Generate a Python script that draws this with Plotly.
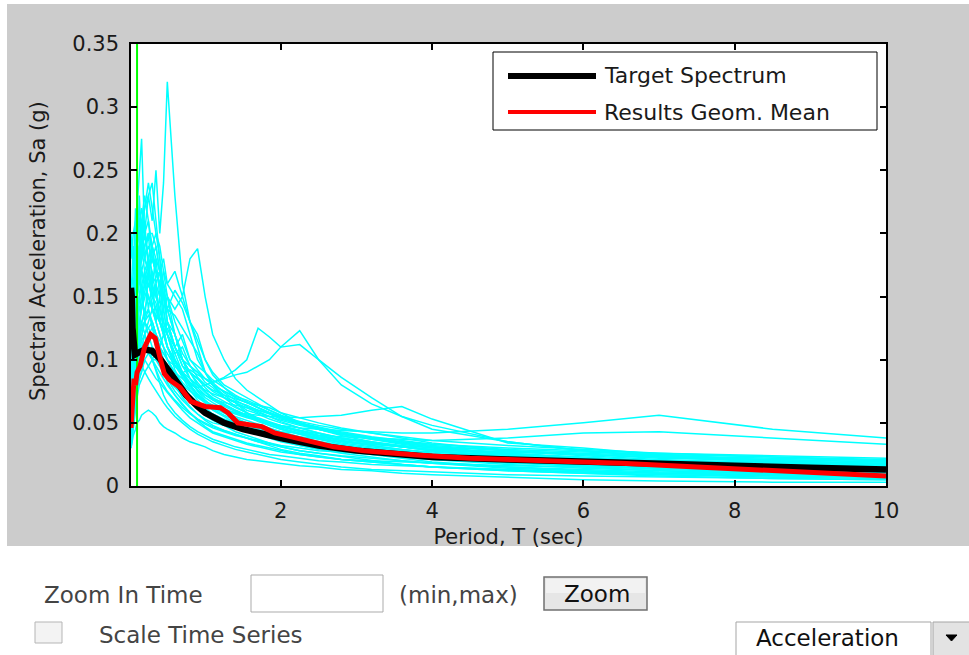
import plotly.graph_objects as go

# ---------------- data ----------------
periods = [0.02, 0.05, 0.08, 0.1, 0.13, 0.16, 0.2, 0.25, 0.3, 0.35, 0.4, 0.45,
           0.5, 0.6, 0.7, 0.8, 0.9, 1.0, 1.1, 1.25, 1.4, 1.55, 1.7, 1.85,
           2.0, 2.25, 2.5, 2.8, 3.2, 3.6, 4.0, 5.0, 6.0, 7.0, 8.5, 10.0]

rec_01 = [0.06, 0.11, 0.15, 0.17, 0.16, 0.19, 0.2, 0.23, 0.21, 0.25, 0.2, 0.24,
          0.32, 0.23, 0.16, 0.13, 0.11, 0.09, 0.08, 0.072, 0.066, 0.058, 0.052, 0.048,
          0.045, 0.041, 0.037, 0.033, 0.03, 0.027, 0.025, 0.022, 0.02, 0.017, 0.014, 0.012]
rec_02 = [0.08, 0.14, 0.19, 0.22, 0.25, 0.275, 0.2, 0.18, 0.15, 0.16, 0.13, 0.12,
          0.11, 0.092, 0.08, 0.07, 0.062, 0.056, 0.052, 0.048, 0.043, 0.04, 0.037, 0.034,
          0.031, 0.028, 0.026, 0.023, 0.02, 0.017, 0.015, 0.013, 0.011, 0.009, 0.007, 0.006]
rec_03 = [0.05, 0.08, 0.11, 0.13, 0.15, 0.14, 0.16, 0.18, 0.15, 0.16, 0.15, 0.17,
          0.16, 0.17, 0.15, 0.18, 0.188, 0.15, 0.12, 0.1, 0.085, 0.076, 0.07, 0.064,
          0.058, 0.05, 0.045, 0.04, 0.035, 0.031, 0.028, 0.024, 0.021, 0.018, 0.015, 0.013]
rec_04 = [0.04, 0.06, 0.08, 0.09, 0.1, 0.11, 0.12, 0.125, 0.13, 0.12, 0.11, 0.105,
          0.1, 0.095, 0.09, 0.092, 0.088, 0.085, 0.082, 0.086, 0.092, 0.1, 0.125, 0.118,
          0.11, 0.123, 0.1, 0.086, 0.07, 0.055, 0.045, 0.035, 0.028, 0.024, 0.02, 0.017]
rec_05 = [0.04, 0.07, 0.09, 0.1, 0.11, 0.12, 0.13, 0.14, 0.125, 0.115, 0.105, 0.1,
          0.095, 0.088, 0.08, 0.075, 0.07, 0.066, 0.063, 0.06, 0.058, 0.057, 0.056, 0.055,
          0.055, 0.054, 0.055, 0.056, 0.06, 0.063, 0.053, 0.034, 0.03, 0.025, 0.02, 0.017]
rec_06 = [0.05, 0.08, 0.1, 0.11, 0.12, 0.13, 0.135, 0.14, 0.13, 0.12, 0.11, 0.105,
          0.1, 0.09, 0.082, 0.076, 0.071, 0.067, 0.064, 0.06, 0.057, 0.054, 0.052, 0.05,
          0.048, 0.046, 0.045, 0.044, 0.043, 0.042, 0.042, 0.045, 0.05, 0.056, 0.045, 0.038]
rec_07 = [0.03, 0.04, 0.045, 0.05, 0.052, 0.056, 0.058, 0.06, 0.058, 0.055, 0.05, 0.047,
          0.045, 0.042, 0.038, 0.035, 0.033, 0.031, 0.028, 0.025, 0.023, 0.021, 0.02, 0.019,
          0.018, 0.016, 0.015, 0.013, 0.012, 0.01, 0.009, 0.007, 0.005, 0.004, 0.003, 0.003]
rec_08 = [0.1, 0.14, 0.17, 0.19, 0.21, 0.22, 0.2, 0.21, 0.18, 0.17, 0.16, 0.13,
          0.12, 0.1, 0.088, 0.078, 0.072, 0.066, 0.06, 0.055, 0.05, 0.047, 0.044, 0.041,
          0.038, 0.034, 0.031, 0.028, 0.025, 0.022, 0.019, 0.015, 0.012, 0.01, 0.008, 0.007]
rec_09 = [0.07, 0.1, 0.13, 0.15, 0.17, 0.18, 0.2, 0.18, 0.17, 0.15, 0.14, 0.125,
          0.11, 0.096, 0.086, 0.076, 0.068, 0.062, 0.057, 0.052, 0.048, 0.045, 0.042, 0.039,
          0.036, 0.032, 0.029, 0.026, 0.023, 0.02, 0.018, 0.014, 0.012, 0.01, 0.009, 0.008]
rec_10 = [0.045, 0.07, 0.095, 0.11, 0.13, 0.14, 0.15, 0.16, 0.15, 0.145, 0.13, 0.125,
          0.11, 0.1, 0.09, 0.082, 0.076, 0.07, 0.066, 0.061, 0.058, 0.055, 0.051, 0.048,
          0.045, 0.041, 0.038, 0.035, 0.032, 0.029, 0.027, 0.023, 0.02, 0.018, 0.015, 0.013]
rec_11 = [0.12, 0.16, 0.19, 0.2, 0.21, 0.19, 0.18, 0.17, 0.16, 0.165, 0.17, 0.18,
          0.16, 0.15, 0.14, 0.12, 0.1, 0.09, 0.08, 0.07, 0.063, 0.058, 0.053, 0.05,
          0.047, 0.044, 0.04, 0.037, 0.034, 0.031, 0.029, 0.025, 0.022, 0.02, 0.018, 0.016]
rec_12 = [0.035, 0.055, 0.07, 0.08, 0.09, 0.1, 0.105, 0.11, 0.1, 0.092, 0.085, 0.08,
          0.075, 0.068, 0.062, 0.057, 0.053, 0.05, 0.047, 0.044, 0.041, 0.038, 0.035, 0.033,
          0.031, 0.028, 0.026, 0.024, 0.022, 0.02, 0.018, 0.015, 0.013, 0.011, 0.01, 0.009]
rec_13 = [0.09, 0.12, 0.15, 0.17, 0.19, 0.2, 0.22, 0.24, 0.22, 0.2, 0.18, 0.15,
          0.13, 0.11, 0.095, 0.085, 0.078, 0.072, 0.068, 0.063, 0.059, 0.055, 0.052, 0.05,
          0.047, 0.044, 0.041, 0.038, 0.035, 0.032, 0.03, 0.026, 0.023, 0.02, 0.018, 0.016]
rec_14 = [0.03, 0.045, 0.06, 0.07, 0.08, 0.085, 0.09, 0.095, 0.1, 0.1, 0.095, 0.09,
          0.085, 0.075, 0.068, 0.062, 0.057, 0.053, 0.05, 0.048, 0.046, 0.044, 0.042, 0.04,
          0.038, 0.035, 0.033, 0.031, 0.029, 0.027, 0.025, 0.021, 0.018, 0.016, 0.014, 0.012]
rec_15 = [0.08, 0.12, 0.15, 0.17, 0.18, 0.2, 0.22, 0.23, 0.24, 0.21, 0.18, 0.16,
          0.14, 0.12, 0.1, 0.09, 0.08, 0.074, 0.069, 0.064, 0.06, 0.056, 0.052, 0.049,
          0.046, 0.042, 0.038, 0.034, 0.031, 0.028, 0.025, 0.02, 0.017, 0.014, 0.012, 0.01]
rec_16 = [0.05, 0.07, 0.09, 0.1, 0.12, 0.13, 0.12, 0.11, 0.1, 0.105, 0.11, 0.12,
          0.125, 0.11, 0.095, 0.09, 0.085, 0.08, 0.076, 0.072, 0.069, 0.066, 0.064, 0.062,
          0.058, 0.054, 0.05, 0.046, 0.042, 0.038, 0.034, 0.028, 0.024, 0.021, 0.018, 0.016]
rec_17 = [0.06, 0.09, 0.11, 0.13, 0.15, 0.16, 0.17, 0.18, 0.19, 0.2, 0.19, 0.17,
          0.15, 0.12, 0.1, 0.085, 0.075, 0.068, 0.063, 0.058, 0.053, 0.05, 0.046, 0.043,
          0.04, 0.036, 0.032, 0.029, 0.026, 0.023, 0.021, 0.017, 0.014, 0.012, 0.01, 0.009]
rec_18 = [0.045, 0.065, 0.08, 0.09, 0.1, 0.105, 0.11, 0.12, 0.125, 0.12, 0.115, 0.11,
          0.105, 0.095, 0.088, 0.082, 0.076, 0.072, 0.069, 0.066, 0.064, 0.062, 0.06, 0.058,
          0.055, 0.051, 0.048, 0.045, 0.042, 0.039, 0.036, 0.032, 0.029, 0.026, 0.023, 0.02]
rec_19 = [0.045, 0.065, 0.085, 0.095, 0.105, 0.115, 0.12, 0.13, 0.14, 0.13, 0.12, 0.11,
          0.1, 0.09, 0.085, 0.08, 0.078, 0.08, 0.082, 0.085, 0.088, 0.09, 0.095, 0.1,
          0.11, 0.112, 0.1, 0.08, 0.065, 0.055, 0.048, 0.035, 0.028, 0.023, 0.019, 0.016]
rec_20 = [0.1, 0.13, 0.15, 0.16, 0.17, 0.18, 0.19, 0.2, 0.2, 0.19, 0.17, 0.15,
          0.13, 0.11, 0.1, 0.095, 0.09, 0.085, 0.08, 0.075, 0.071, 0.068, 0.064, 0.06,
          0.056, 0.05, 0.046, 0.042, 0.038, 0.034, 0.031, 0.025, 0.021, 0.018, 0.016, 0.014]
rec_21 = [0.035, 0.055, 0.07, 0.078, 0.085, 0.09, 0.1, 0.105, 0.11, 0.105, 0.1, 0.095,
          0.09, 0.08, 0.07, 0.063, 0.057, 0.052, 0.048, 0.044, 0.041, 0.038, 0.035, 0.032,
          0.029, 0.026, 0.024, 0.021, 0.019, 0.017, 0.015, 0.012, 0.01, 0.009, 0.008, 0.007]
rec_22 = [0.06, 0.09, 0.12, 0.13, 0.15, 0.17, 0.18, 0.19, 0.18, 0.17, 0.16, 0.15,
          0.14, 0.155, 0.145, 0.13, 0.115, 0.1, 0.088, 0.078, 0.07, 0.066, 0.062, 0.058,
          0.054, 0.05, 0.047, 0.043, 0.039, 0.036, 0.033, 0.029, 0.027, 0.025, 0.023, 0.021]
rec_23 = [0.04, 0.065, 0.085, 0.1, 0.11, 0.12, 0.13, 0.12, 0.11, 0.1, 0.095, 0.09,
          0.085, 0.078, 0.072, 0.066, 0.062, 0.058, 0.055, 0.052, 0.05, 0.048, 0.046, 0.045,
          0.043, 0.042, 0.04, 0.039, 0.038, 0.037, 0.036, 0.038, 0.042, 0.043, 0.038, 0.033]
rec_24 = [0.09, 0.12, 0.14, 0.16, 0.17, 0.19, 0.17, 0.16, 0.15, 0.14, 0.13, 0.125,
          0.12, 0.105, 0.09, 0.08, 0.072, 0.066, 0.061, 0.056, 0.052, 0.048, 0.045, 0.042,
          0.04, 0.036, 0.033, 0.03, 0.027, 0.025, 0.023, 0.02, 0.017, 0.015, 0.013, 0.011]
rec_25 = [0.035, 0.055, 0.075, 0.09, 0.1, 0.11, 0.12, 0.11, 0.1, 0.09, 0.08, 0.072,
          0.066, 0.058, 0.052, 0.047, 0.043, 0.04, 0.037, 0.034, 0.031, 0.029, 0.027, 0.025,
          0.024, 0.022, 0.02, 0.019, 0.017, 0.016, 0.015, 0.013, 0.011, 0.01, 0.009, 0.008]
rec_26 = [0.1, 0.12, 0.14, 0.15, 0.16, 0.17, 0.16, 0.15, 0.14, 0.14, 0.13, 0.12,
          0.11, 0.1, 0.09, 0.085, 0.08, 0.076, 0.073, 0.07, 0.067, 0.064, 0.06, 0.057,
          0.053, 0.049, 0.045, 0.041, 0.037, 0.034, 0.031, 0.028, 0.026, 0.024, 0.022, 0.02]
rec_27 = [0.05, 0.075, 0.095, 0.11, 0.12, 0.13, 0.14, 0.15, 0.14, 0.13, 0.12, 0.11,
          0.1, 0.088, 0.078, 0.07, 0.064, 0.059, 0.055, 0.051, 0.047, 0.044, 0.041, 0.038,
          0.035, 0.032, 0.029, 0.027, 0.025, 0.023, 0.021, 0.018, 0.016, 0.014, 0.012, 0.011]
rec_28 = [0.15, 0.17, 0.19, 0.2, 0.2, 0.21, 0.23, 0.21, 0.19, 0.17, 0.16, 0.15,
          0.14, 0.12, 0.105, 0.095, 0.086, 0.08, 0.075, 0.07, 0.066, 0.062, 0.058, 0.055,
          0.052, 0.048, 0.045, 0.041, 0.038, 0.035, 0.032, 0.028, 0.025, 0.022, 0.02, 0.018]
rec_29 = [0.04, 0.065, 0.085, 0.1, 0.115, 0.125, 0.13, 0.125, 0.12, 0.11, 0.1, 0.09,
          0.082, 0.072, 0.064, 0.058, 0.053, 0.049, 0.046, 0.043, 0.04, 0.038, 0.036, 0.034,
          0.032, 0.03, 0.028, 0.027, 0.026, 0.025, 0.024, 0.022, 0.021, 0.02, 0.019, 0.018]
rec_30 = [0.06, 0.085, 0.1, 0.12, 0.13, 0.14, 0.15, 0.17, 0.18, 0.17, 0.16, 0.14,
          0.12, 0.1, 0.09, 0.08, 0.072, 0.066, 0.062, 0.058, 0.054, 0.05, 0.047, 0.044,
          0.041, 0.038, 0.035, 0.032, 0.029, 0.026, 0.024, 0.019, 0.015, 0.012, 0.01, 0.008]
rec_31 = [0.05, 0.07, 0.08, 0.085, 0.09, 0.095, 0.09, 0.085, 0.08, 0.075, 0.07, 0.066,
          0.062, 0.055, 0.05, 0.045, 0.041, 0.038, 0.035, 0.032, 0.029, 0.027, 0.025, 0.023,
          0.021, 0.019, 0.017, 0.015, 0.013, 0.012, 0.011, 0.009, 0.008, 0.007, 0.006, 0.005]
rec_32 = [0.13, 0.15, 0.17, 0.18, 0.19, 0.2, 0.18, 0.17, 0.16, 0.15, 0.14, 0.13,
          0.12, 0.11, 0.1, 0.09, 0.082, 0.075, 0.07, 0.065, 0.06, 0.056, 0.053, 0.05,
          0.047, 0.043, 0.039, 0.036, 0.033, 0.031, 0.029, 0.027, 0.025, 0.023, 0.021, 0.019]
rec_33 = [0.06, 0.08, 0.1, 0.11, 0.12, 0.125, 0.13, 0.135, 0.13, 0.12, 0.11, 0.1,
          0.095, 0.085, 0.078, 0.072, 0.066, 0.061, 0.057, 0.053, 0.05, 0.047, 0.045, 0.043,
          0.041, 0.039, 0.037, 0.035, 0.033, 0.031, 0.029, 0.027, 0.025, 0.023, 0.021, 0.019]
rec_34 = [0.04, 0.06, 0.075, 0.085, 0.095, 0.1, 0.11, 0.105, 0.1, 0.095, 0.09, 0.085,
          0.08, 0.072, 0.065, 0.058, 0.052, 0.047, 0.043, 0.04, 0.037, 0.034, 0.032, 0.03,
          0.028, 0.025, 0.023, 0.021, 0.019, 0.017, 0.015, 0.012, 0.01, 0.008, 0.006, 0.005]
rec_35 = [0.18, 0.2, 0.21, 0.19, 0.2, 0.18, 0.19, 0.2, 0.19, 0.18, 0.17, 0.16,
          0.15, 0.13, 0.115, 0.1, 0.092, 0.085, 0.08, 0.075, 0.07, 0.066, 0.062, 0.058,
          0.055, 0.05, 0.046, 0.042, 0.038, 0.035, 0.033, 0.03, 0.028, 0.026, 0.024, 0.022]
rec_36 = [0.07, 0.09, 0.11, 0.12, 0.14, 0.15, 0.16, 0.15, 0.14, 0.135, 0.13, 0.12,
          0.11, 0.098, 0.088, 0.08, 0.073, 0.067, 0.062, 0.058, 0.055, 0.052, 0.049, 0.046,
          0.043, 0.039, 0.035, 0.032, 0.029, 0.026, 0.023, 0.02, 0.016, 0.013, 0.011, 0.009]
rec_37 = [0.03, 0.05, 0.065, 0.075, 0.085, 0.09, 0.1, 0.095, 0.09, 0.085, 0.082, 0.078,
          0.074, 0.067, 0.06, 0.054, 0.05, 0.046, 0.042, 0.039, 0.036, 0.033, 0.031, 0.029,
          0.027, 0.025, 0.023, 0.021, 0.02, 0.019, 0.018, 0.016, 0.015, 0.014, 0.013, 0.012]
rec_38 = [0.11, 0.14, 0.16, 0.17, 0.18, 0.17, 0.16, 0.17, 0.18, 0.19, 0.17, 0.15,
          0.14, 0.135, 0.125, 0.115, 0.105, 0.09, 0.082, 0.074, 0.068, 0.063, 0.059, 0.055,
          0.051, 0.046, 0.042, 0.038, 0.034, 0.031, 0.028, 0.024, 0.021, 0.018, 0.016, 0.014]
rec_39 = [0.15, 0.19, 0.16, 0.2, 0.17, 0.21, 0.18, 0.2, 0.16, 0.18, 0.15, 0.16,
          0.13, 0.12, 0.1, 0.09, 0.085, 0.078, 0.072, 0.067, 0.062, 0.058, 0.054, 0.051,
          0.048, 0.044, 0.04, 0.036, 0.032, 0.029, 0.026, 0.022, 0.019, 0.017, 0.015, 0.013]
rec_40 = [0.07, 0.12, 0.09, 0.14, 0.11, 0.16, 0.13, 0.17, 0.14, 0.16, 0.13, 0.14,
          0.12, 0.105, 0.11, 0.095, 0.09, 0.082, 0.078, 0.07, 0.066, 0.06, 0.057, 0.053,
          0.05, 0.046, 0.042, 0.038, 0.034, 0.031, 0.028, 0.023, 0.02, 0.017, 0.015, 0.013]
rec_41 = [0.2, 0.17, 0.22, 0.18, 0.23, 0.19, 0.21, 0.17, 0.19, 0.16, 0.17, 0.14,
          0.15, 0.14, 0.15, 0.13, 0.12, 0.1, 0.09, 0.08, 0.075, 0.07, 0.065, 0.06,
          0.056, 0.05, 0.046, 0.042, 0.038, 0.034, 0.031, 0.026, 0.022, 0.019, 0.017, 0.015]
rec_42 = [0.09, 0.13, 0.17, 0.14, 0.19, 0.15, 0.17, 0.14, 0.16, 0.13, 0.15, 0.12,
          0.13, 0.11, 0.12, 0.1, 0.095, 0.09, 0.084, 0.078, 0.072, 0.067, 0.062, 0.058,
          0.054, 0.049, 0.045, 0.041, 0.037, 0.033, 0.03, 0.025, 0.021, 0.018, 0.016, 0.014]

records = [rec_01, rec_02, rec_03, rec_04, rec_05, rec_06, rec_07, rec_08, rec_09, rec_10,
           rec_11, rec_12, rec_13, rec_14, rec_15, rec_16, rec_17, rec_18, rec_19, rec_20,
           rec_21, rec_22, rec_23, rec_24, rec_25, rec_26, rec_27, rec_28, rec_29, rec_30,
           rec_31, rec_32, rec_33, rec_34, rec_35, rec_36, rec_37, rec_38, rec_39, rec_40,
           rec_41, rec_42]

target_T = [0.02, 0.03, 0.04, 0.05, 0.07, 0.1, 0.15, 0.2, 0.3, 0.4, 0.5, 0.6, 0.75,
            0.9, 1.0, 1.25, 1.5, 2.0, 2.5, 3.0, 3.5, 4.0, 5.0, 6.0, 7.0, 8.0, 9.0, 10.0]
target_Sa = [0.157, 0.15, 0.125, 0.105, 0.104, 0.105, 0.107, 0.108, 0.107, 0.101, 0.093,
             0.085, 0.072, 0.063, 0.058, 0.05, 0.045, 0.038, 0.032, 0.028, 0.025, 0.023,
             0.021, 0.019, 0.0175, 0.016, 0.0145, 0.013]

mean_T = [0.02, 0.04, 0.06, 0.08, 0.1, 0.14, 0.2, 0.28, 0.34, 0.41, 0.46, 0.53, 0.67,
          0.81, 1.0, 1.2, 1.3, 1.43, 1.6, 1.75, 1.92, 2.2, 2.7, 3.1, 3.8, 4.5, 5.5, 6.5,
          7.5, 8.5, 9.5, 10.0]
mean_Sa = [0.046, 0.07, 0.085, 0.08, 0.09, 0.095, 0.11, 0.12, 0.117, 0.1, 0.089, 0.084,
           0.078, 0.067, 0.063, 0.062, 0.058, 0.05, 0.048, 0.047, 0.042, 0.038, 0.031,
           0.028, 0.0245, 0.022, 0.02, 0.018, 0.015, 0.012, 0.009, 0.008]

marker_T = 0.1
x_ticks = [2, 4, 6, 8, 10]
y_ticks = [0, 0.05, 0.1, 0.15, 0.2, 0.25, 0.3, 0.35]
legend_labels = ["Target Spectrum", "Results Geom. Mean"]
x_title = "Period, T (sec)"
y_title = "Spectral Acceleration, Sa (g)"

# ---------------- layout geometry (pixels) ----------------
W, H = 969, 655
L, R, T, B = 131, 886, 44, 486


def px(x):
    return (x - L) / (R - L)


def py(y):
    return (B - y) / (B - T)


FONT = "DejaVu Sans"
GRAY = "#cccccc"

fig = go.Figure()

for i, rec in enumerate(records):
    fig.add_trace(go.Scatter(x=periods, y=rec, mode="lines",
                             line=dict(color="#00ffff", width=1.5),
                             name="record %d" % (i + 1), showlegend=False,
                             hoverinfo="skip"))

fig.add_trace(go.Scatter(x=[marker_T, marker_T], y=[y_ticks[0], y_ticks[-1]], mode="lines",
                         line=dict(color="#00ff00", width=2), showlegend=False,
                         hoverinfo="skip"))
fig.add_trace(go.Scatter(x=target_T, y=target_Sa, mode="lines", name=legend_labels[0],
                         line=dict(color="black", width=6.5), showlegend=False))
fig.add_trace(go.Scatter(x=mean_T, y=mean_Sa, mode="lines", name=legend_labels[1],
                         line=dict(color="#ff0000", width=5), showlegend=False))

shapes = []
annotations = []

# white strips outside the gray figure panel
for (x0, y0, x1, y1) in [(0, 546, W, H), (0, 0, 7, 546), (0, 0, W, 4)]:
    shapes.append(dict(type="rect", xref="paper", yref="paper", layer="below",
                       x0=px(x0), x1=px(x1), y0=py(y1), y1=py(y0),
                       fillcolor="white", line=dict(width=0)))

# manual legend
shapes.append(dict(type="rect", xref="paper", yref="paper",
                   x0=px(493), x1=px(877), y0=py(130), y1=py(52),
                   fillcolor="white", line=dict(color="black", width=1)))
shapes.append(dict(type="line", xref="paper", yref="paper",
                   x0=px(508), x1=px(596), y0=py(76), y1=py(76),
                   line=dict(color="black", width=6)))
shapes.append(dict(type="line", xref="paper", yref="paper",
                   x0=px(508), x1=px(596), y0=py(112), y1=py(112),
                   line=dict(color="#ff0000", width=4)))
for lab, yy in zip(legend_labels, [76, 112]):
    annotations.append(dict(xref="paper", yref="paper", x=px(602), y=py(yy),
                            xanchor="left", yanchor="middle", showarrow=False,
                            text=lab, font=dict(family=FONT, size=22, color="#1a1a1a")))

# y axis title
annotations.append(dict(xref="paper", yref="paper", x=px(38), y=py(251),
                        xanchor="center", yanchor="middle", showarrow=False,
                        textangle=-90, text=y_title,
                        font=dict(family=FONT, size=21, color="#1a1a1a")))

# widgets below the chart
WTXT = "#444444"
shapes.append(dict(type="rect", xref="paper", yref="paper",
                   x0=px(251), x1=px(383), y0=py(612), y1=py(575),
                   fillcolor="white", line=dict(color="#ababab", width=1)))
shapes.append(dict(type="rect", xref="paper", yref="paper",
                   x0=px(544), x1=px(647), y0=py(610), y1=py(577),
                   fillcolor="#e6e6e6", line=dict(color="#707070", width=1.5)))
shapes.append(dict(type="rect", xref="paper", yref="paper",
                   x0=px(546), x1=px(645), y0=py(593), y1=py(579),
                   fillcolor="#f2f2f2", line=dict(width=0)))
shapes.append(dict(type="rect", xref="paper", yref="paper",
                   x0=px(35), x1=px(62), y0=py(643), y1=py(622),
                   fillcolor="#f3f3f3", line=dict(color="#b5b5b5", width=1)))
shapes.append(dict(type="rect", xref="paper", yref="paper",
                   x0=px(736), x1=px(931), y0=py(660), y1=py(622),
                   fillcolor="white", line=dict(color="#a5a5a5", width=1)))
shapes.append(dict(type="rect", xref="paper", yref="paper",
                   x0=px(933), x1=px(975), y0=py(660), y1=py(622),
                   fillcolor="#e3e3e3", line=dict(color="#a5a5a5", width=1)))
shapes.append(dict(type="path", xref="paper", yref="paper",
                   path="M %f,%f L %f,%f L %f,%f Z" % (px(946), py(635), px(957), py(635),
                                                        px(951.5), py(641)),
                   fillcolor="black", line=dict(color="black", width=1)))

for txt, cx, cy, col in [("Zoom In Time", 123, 595, WTXT),
                         ("(min,max)", 458, 595, WTXT),
                         ("Zoom", 597, 594, "#111111"),
                         ("Scale Time Series", 201, 635, WTXT),
                         ("Acceleration", 827, 638, "#111111")]:
    annotations.append(dict(xref="paper", yref="paper", x=px(cx), y=py(cy),
                            xanchor="center", yanchor="middle", showarrow=False,
                            text=txt, font=dict(family=FONT, size=23, color=col)))

axis_common = dict(showline=True, linecolor="black", linewidth=1.5, mirror="ticks",
                   ticks="inside", ticklen=6, tickwidth=1.5, tickcolor="black",
                   showgrid=False, zeroline=False,
                   tickfont=dict(family=FONT, size=21, color="#1a1a1a"))

fig.update_layout(
    width=W, height=H,
    margin=dict(l=L, r=W - R, t=T, b=H - B, autoexpand=False),
    paper_bgcolor=GRAY, plot_bgcolor="white",
    showlegend=False,
    shapes=shapes, annotations=annotations,
    xaxis=dict(range=[0.02, 10], tickvals=x_ticks, ticklabelstandoff=5,
               title=dict(text=x_title, standoff=7,
                          font=dict(family=FONT, size=21, color="#1a1a1a")),
               **axis_common),
    yaxis=dict(range=[0, 0.35], tickvals=y_ticks, ticklabelstandoff=6,
               **axis_common),
)

fig.write_html("out.html")
